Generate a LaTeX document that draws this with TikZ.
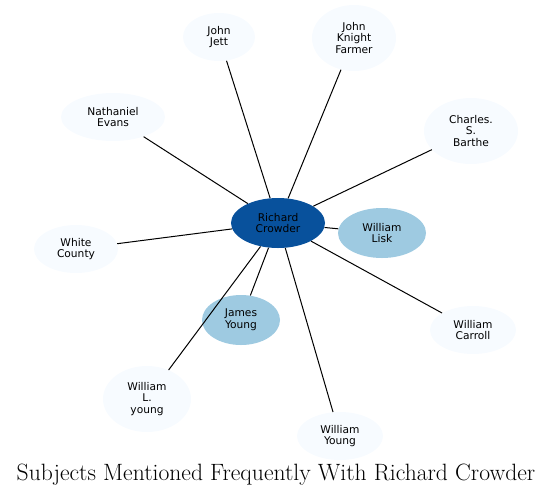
\documentclass[tikz,border=0pt]{standalone}
\usepackage{fontspec}
\usepackage{tikz}
\usetikzlibrary{shapes.geometric}
\newfontfamily\dejavu{DejaVu Sans}
\definecolor{deepblue}{HTML}{08519C}
\definecolor{midblue}{HTML}{9ECAE1}
\definecolor{paleblue}{HTML}{F7FBFF}

\begin{document}
\begin{tikzpicture}[x=0.75pt, y=-0.75pt,
    bub/.style n args={2}{ellipse, inner sep=0pt, align=center,
      font=\dejavu\fontsize{8}{8.8}\selectfont,
      minimum width={1.5pt*#1}, minimum height={1.5pt*#2}}]
        \useasboundingbox (0,0) rectangle (553,497);
        \node[bub={47}{25}, fill=deepblue] (rc) at (278,223) {Richard\\Crowder};
        \node[bub={44}{25}, fill=midblue] (wl) at (382,233) {William\\Lisk};
        \node[bub={39}{25}, fill=midblue] (jy) at (241,320) {James\\Young};
        \node[bub={36}{24}, fill=paleblue] (jj) at (219,37) {John\\Jett};
        \node[bub={42}{33}, fill=paleblue] (jkf) at (354,38) {John\\Knight\\Farmer};
        \node[bub={52}{24}, fill=paleblue] (ne) at (113,117) {Nathaniel\\Evans};
        \node[bub={47}{33}, fill=paleblue] (csb) at (471,131) {Charles.\\S.\\Barthe};
        \node[bub={42}{24}, fill=paleblue] (wc) at (76,249) {White\\County};
        \node[bub={43}{24}, fill=paleblue] (wca) at (473,330) {William\\Carroll};
        \node[bub={44}{33}, fill=paleblue] (wly) at (147,399) {William\\L.\\young};
        \node[bub={43}{24}, fill=paleblue] (wy) at (340,436) {William\\Young};
        % spokes out of the centre
        \foreach \n in {wl,jy,jj,jkf,ne,csb,wc,wca,wly,wy}
          \draw[line width=0.75pt] (rc) -- (\n);
        \node at (276,475) {\fontsize{17.7}{20}\selectfont Subjects Mentioned Frequently With Richard Crowder};
    \end{tikzpicture}
\end{document}
